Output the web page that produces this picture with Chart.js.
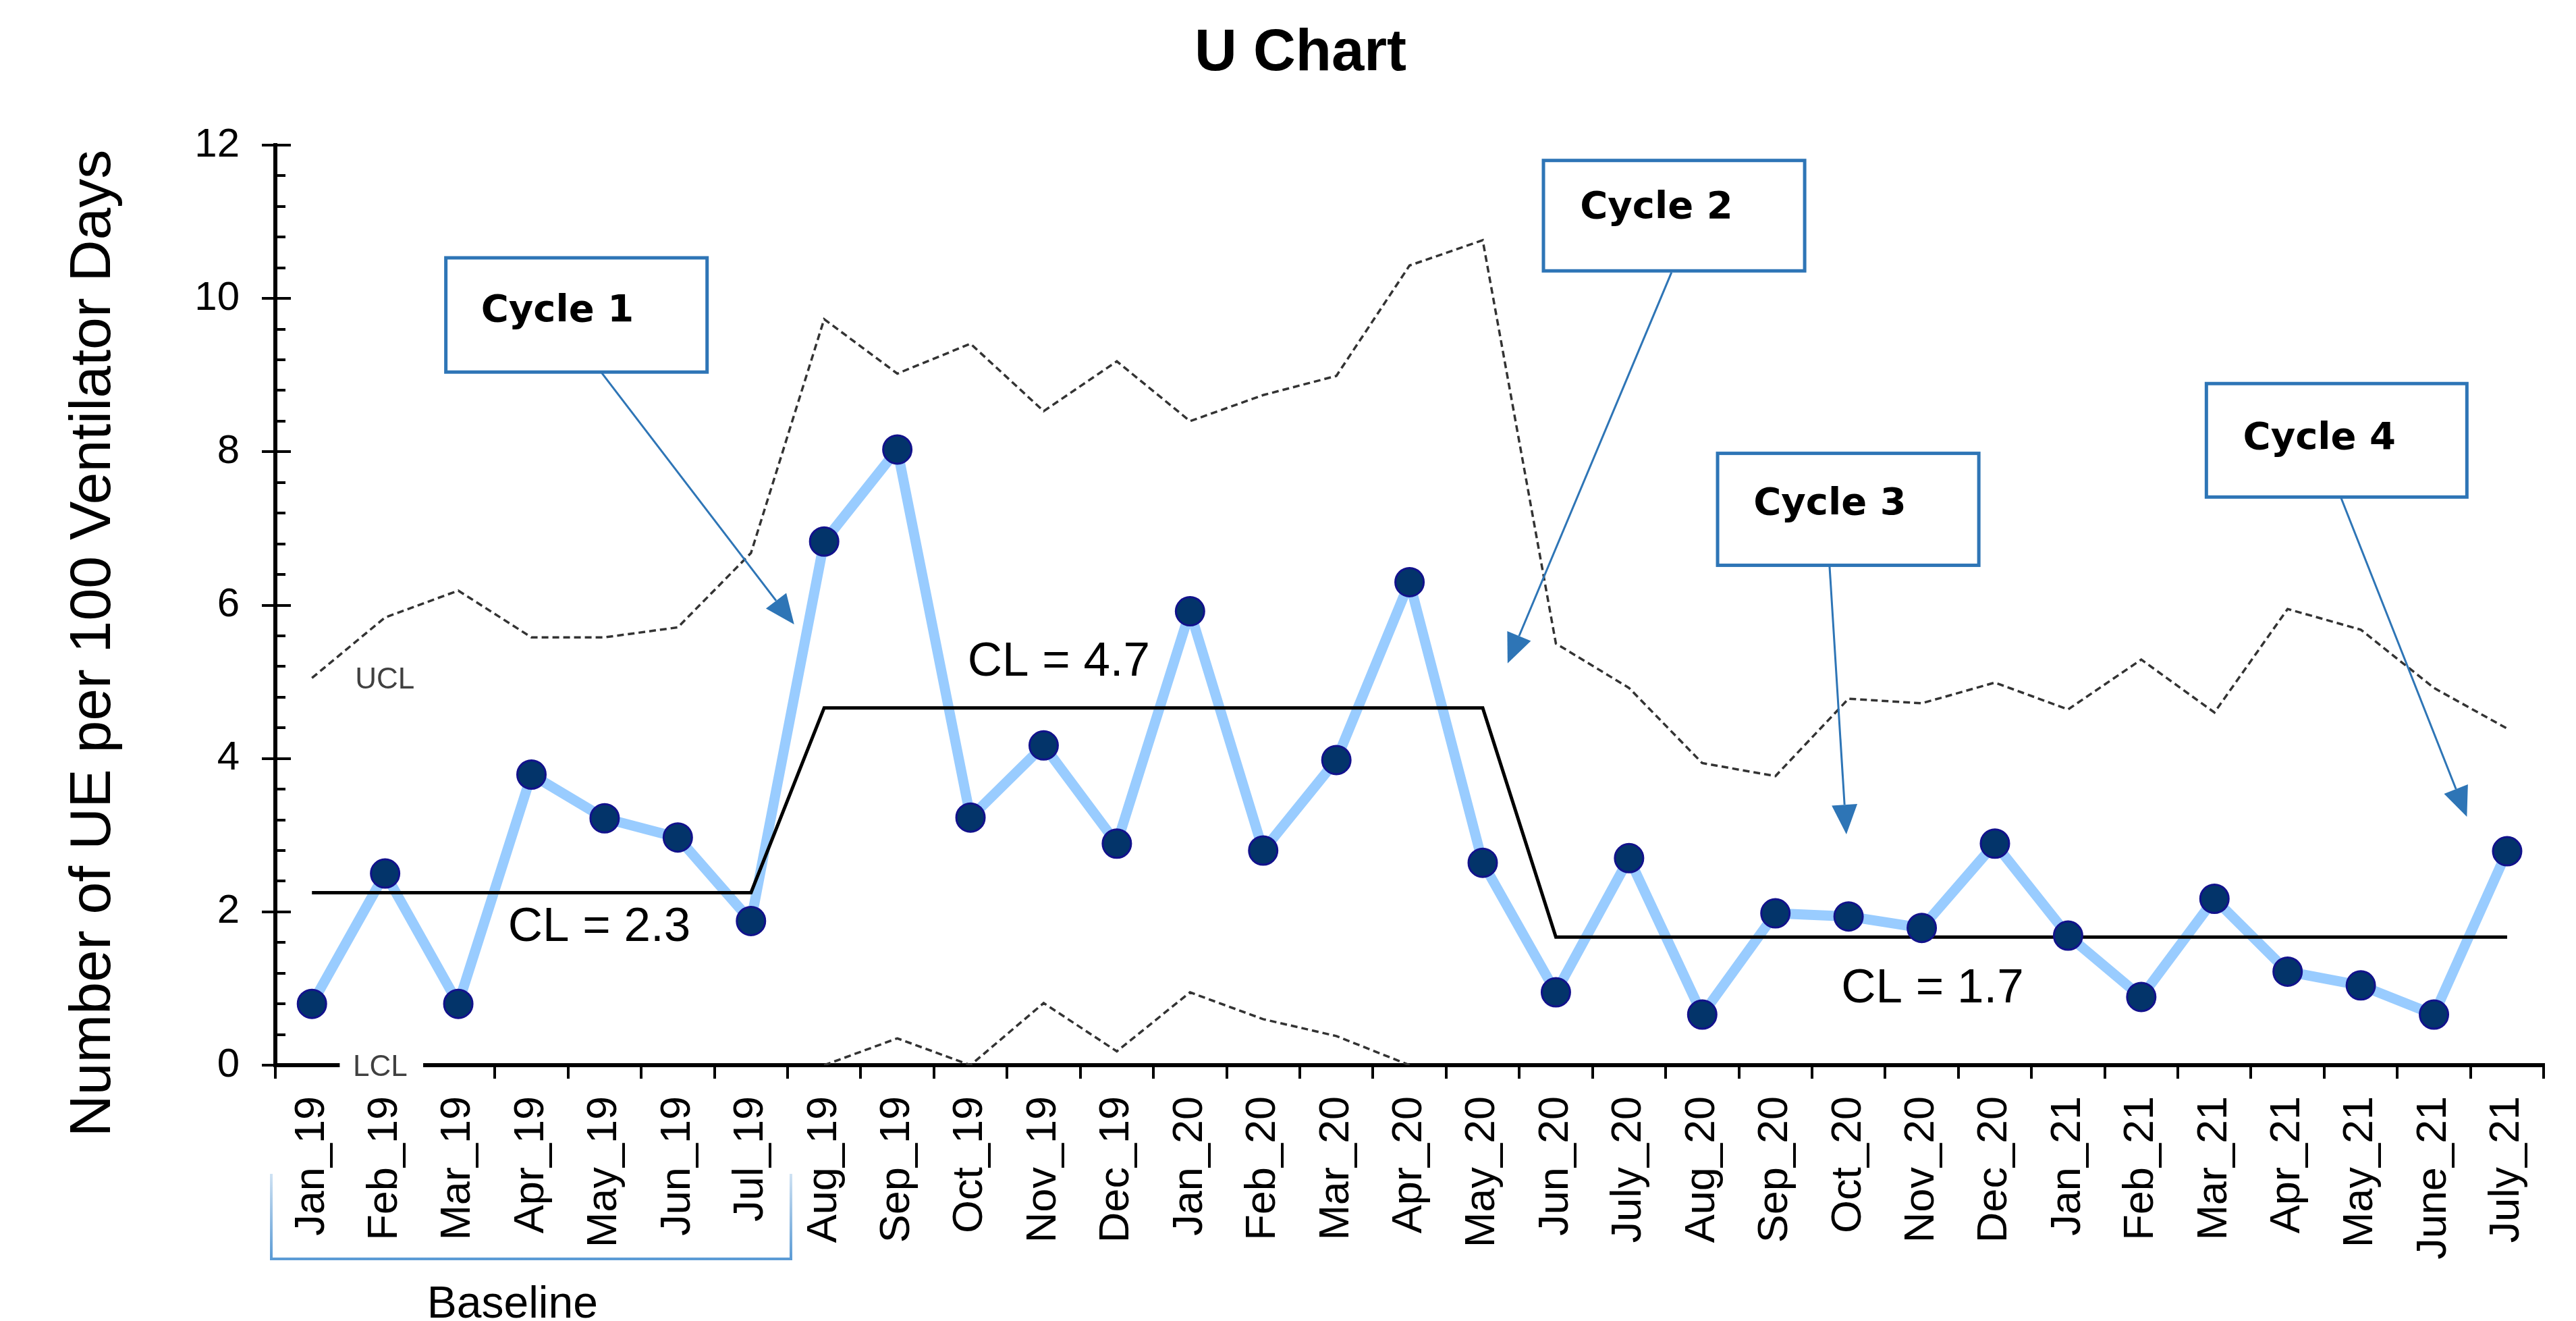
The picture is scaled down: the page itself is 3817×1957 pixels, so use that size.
<!DOCTYPE html>
<html>
<head>
    <meta charset="utf-8" />
    <title>U Chart</title>
    <script src="https://cdn.jsdelivr.net/npm/chart.js"></script>
    <style>
        html, body { margin: 0; padding: 0; background: #fff; }
    </style>
</head>
<body>
    <canvas id="myChart" width="3817" height="1957"></canvas>

    <script>
        // datos
        const meses = [
            'Jan_19', 'Feb_19', 'Mar_19', 'Apr_19', 'May_19', 'Jun_19', 'Jul_19',
            'Aug_19', 'Sep_19', 'Oct_19', 'Nov_19', 'Dec_19',
            'Jan_20', 'Feb_20', 'Mar_20', 'Apr_20', 'May_20', 'Jun_20', 'July_20',
            'Aug_20', 'Sep_20', 'Oct_20', 'Nov_20', 'Dec_20',
            'Jan_21', 'Feb_21', 'Mar_21', 'Apr_21', 'May_21', 'June_21', 'July_21'
        ];
        const valores = [
            0.80, 2.50, 0.80, 3.79, 3.22, 2.97, 1.88,
            6.83, 8.03, 3.23, 4.17, 2.89,
            5.92, 2.80, 3.98, 6.30, 2.64, 0.95, 2.70,
            0.66, 1.98, 1.94, 1.79, 2.89,
            1.69, 0.89, 2.17, 1.22, 1.04, 0.66, 2.79
        ];
        const ucl = [
            5.05, 5.84, 6.19, 5.58, 5.58, 5.71, 6.68,
            9.73, 9.02, 9.41, 8.53, 9.18,
            8.40, 8.74, 8.99, 10.43, 10.76, 5.50, 4.92,
            3.94, 3.77, 4.78, 4.72, 4.99,
            4.64, 5.29, 4.60, 5.95, 5.68, 4.92, 4.39
        ];
        const lcl = [
            null, null, null, null, null, null, null,
            0.00, 0.35, 0.00, 0.81, 0.18,
            0.95, 0.60, 0.38, 0.00, null, null, null,
            null, null, null, null, null,
            null, null, null, null, null, null, null
        ];
        const cl = [
            2.25, 2.25, 2.25, 2.25, 2.25, 2.25, 2.25,
            4.66, 4.66, 4.66, 4.66, 4.66,
            4.66, 4.66, 4.66, 4.66, 4.66, 1.67, 1.67,
            1.67, 1.67, 1.67, 1.67, 1.67,
            1.67, 1.67, 1.67, 1.67, 1.67, 1.67, 1.67
        ];
        const yTicks = [0, 2, 4, 6, 8, 10, 12];
        const pasoMenor = 0.4;

        const FUENTE = "'Liberation Sans', Arial, sans-serif";
        const AZUL = '#2e75b6';

        // cajas de ciclos (coordenadas en indice de categoria / valor)
        const cajas = [
            { texto: 'Cycle 1', x0: 1.83, x1: 5.40, y0: 10.53, y1: 9.04, tx: 2.31, ty: 9.83, desde: [3.96, 9.03], hasta: [6.59, 5.75] },
            { texto: 'Cycle 2', x0: 16.83, x1: 20.40, y0: 11.80, y1: 10.36, tx: 17.33, ty: 11.18, desde: [18.58, 10.34], hasta: [16.34, 5.24] },
            { texto: 'Cycle 3', x0: 19.21, x1: 22.78, y0: 7.98, y1: 6.52, tx: 19.70, ty: 7.31, desde: [20.74, 6.51], hasta: [20.97, 3.01] },
            { texto: 'Cycle 4', x0: 25.89, x1: 29.45, y0: 8.89, y1: 7.41, tx: 26.39, ty: 8.17, desde: [27.73, 7.40], hasta: [29.45, 3.24] }
        ];
        const textosCL = [
            { texto: 'CL = 2.3', x: 2.68, y: 1.79 },
            { texto: 'CL = 4.7', x: 8.96, y: 5.25 },
            { texto: 'CL = 1.7', x: 20.90, y: 0.99 }
        ];

        function flecha(ctx, x0, y0, x1, y1) {
            const ang = Math.atan2(y1 - y0, x1 - x0);
            const largo = 44, ancho = 19;
            const bx = x1 - largo * Math.cos(ang), by = y1 - largo * Math.sin(ang);
            ctx.beginPath();
            ctx.moveTo(x0, y0);
            ctx.lineTo(bx, by);
            ctx.stroke();
            ctx.beginPath();
            ctx.moveTo(x1, y1);
            ctx.lineTo(bx + ancho * Math.sin(ang), by - ancho * Math.cos(ang));
            ctx.lineTo(bx - ancho * Math.sin(ang), by + ancho * Math.cos(ang));
            ctx.closePath();
            ctx.fill();
        }

        const anotaciones = {
            id: 'anotaciones',
            afterDraw(chart) {
                const ctx = chart.ctx;
                const xs = chart.scales.x, ys = chart.scales.y;
                const area = chart.chartArea;
                const X = v => xs.getPixelForValue(v);
                const Y = v => ys.getPixelForValue(v);
                ctx.save();

                // marcas menores del eje y (hacia dentro)
                ctx.strokeStyle = '#000';
                ctx.lineWidth = 4;
                for (let k = 0; k <= 30; k++) {
                    const v = k * pasoMenor;
                    const y = Math.round(Y(v));
                    const mayor = (k % 5) === 0;
                    ctx.beginPath();
                    ctx.moveTo(area.left, y);
                    ctx.lineTo(area.left + (mayor ? 23 : 15), y);
                    ctx.stroke();
                }

                // UCL / LCL
                ctx.font = '44px ' + FUENTE;
                ctx.textBaseline = 'middle';
                ctx.textAlign = 'left';
                ctx.fillStyle = '#fff';
                ctx.fillRect(X(0.38), Y(0) - 20, X(1.52) - X(0.38), 46);
                ctx.fillStyle = '#404040';
                ctx.fillText('LCL', X(0.56), Y(0) + 4);
                ctx.fillText('UCL', X(0.59), Y(5.02));

                // textos CL
                ctx.fillStyle = '#000';
                ctx.font = '71px ' + FUENTE;
                textosCL.forEach(t => ctx.fillText(t.texto, X(t.x), Y(t.y)));

                // cajas y flechas
                cajas.forEach(c => {
                    ctx.strokeStyle = AZUL;
                    ctx.fillStyle = AZUL;
                    ctx.lineWidth = 3;
                    flecha(ctx, X(c.desde[0]), Y(c.desde[1]), X(c.hasta[0]), Y(c.hasta[1]));
                    const l = X(c.x0), r = X(c.x1), t = Y(c.y0), b = Y(c.y1);
                    ctx.fillStyle = '#fff';
                    ctx.fillRect(l, t, r - l, b - t);
                    ctx.lineWidth = 5;
                    ctx.strokeRect(l, t, r - l, b - t);
                    ctx.fillStyle = '#000';
                    ctx.font = "bold 56px 'DejaVu Sans', sans-serif";
                    ctx.textBaseline = 'middle';
                    ctx.fillText(c.texto, X(c.tx), Y(c.ty));
                });

                // titulo del eje y
                ctx.save();
                ctx.translate(163, 953);
                ctx.rotate(-Math.PI / 2);
                ctx.font = '86px ' + FUENTE;
                ctx.textAlign = 'center';
                ctx.textBaseline = 'alphabetic';
                ctx.fillStyle = '#000';
                ctx.fillText('Number of UE per 100 Ventilator Days', 0, 0);
                ctx.restore();

                // llave "Baseline"
                const bl = X(-0.5) - 6, br = X(6.5) + 5;
                const bt = area.bottom + 161, bb = area.bottom + 287;
                const grad = ctx.createLinearGradient(0, bt, 0, bb);
                grad.addColorStop(0, '#cfe2f3');
                grad.addColorStop(1, '#5b9bd5');
                ctx.strokeStyle = grad;
                ctx.lineWidth = 4;
                ctx.beginPath();
                ctx.moveTo(bl, bt);
                ctx.lineTo(bl, bb);
                ctx.lineTo(br, bb);
                ctx.lineTo(br, bt);
                ctx.stroke();
                ctx.fillStyle = '#000';
                ctx.font = '66px ' + FUENTE;
                ctx.textAlign = 'center';
                ctx.textBaseline = 'alphabetic';
                ctx.fillText('Baseline', X(2.74), area.bottom + 374);

                ctx.restore();
            }
        };

        const data = {
            labels: meses,
            datasets: [
                {
                    label: 'Puntos',
                    data: valores,
                    showLine: false,
                    pointRadius: 21,
                    pointBackgroundColor: '#03346a',
                    pointBorderColor: '#12128c',
                    pointBorderWidth: 3,
                    order: 0
                },
                {
                    label: 'CL',
                    data: cl,
                    borderColor: '#000',
                    borderWidth: 5,
                    pointRadius: 0,
                    order: 1
                },
                {
                    label: 'U',
                    data: valores,
                    borderColor: '#99ccff',
                    borderWidth: 15,
                    borderJoinStyle: 'round',
                    borderCapStyle: 'round',
                    pointRadius: 0,
                    order: 2
                },
                {
                    label: 'UCL',
                    data: ucl,
                    borderColor: '#333',
                    borderWidth: 3.5,
                    borderDash: [10, 6],
                    pointRadius: 0,
                    order: 3
                },
                {
                    label: 'LCL',
                    data: lcl,
                    borderColor: '#333',
                    borderWidth: 3.5,
                    borderDash: [10, 6],
                    pointRadius: 0,
                    spanGaps: false,
                    order: 4
                }
            ]
        };

        const config = {
            type: 'line',
            data,
            plugins: [anotaciones],
            options: {
                responsive: false,
                devicePixelRatio: 1,
                animation: false,
                layout: { padding: { left: 64, right: 27, top: 0, bottom: 0 } },
                plugins: {
                    legend: { display: false },
                    tooltip: { enabled: false },
                    title: {
                        display: true,
                        text: 'U Chart',
                        color: '#000',
                        font: { family: FUENTE, size: 87, weight: 'bold', lineHeight: 1.2 },
                        padding: { top: 28, bottom: 82.6 }
                    }
                },
                scales: {
                    x: {
                        type: 'category',
                        offset: true,
                        grid: {
                            offset: true,
                            drawOnChartArea: false,
                            tickLength: 20,
                            color: '#000',
                            lineWidth: 4
                        },
                        border: { color: '#000', width: 6 },
                        ticks: {
                            autoSkip: false,
                            minRotation: 90,
                            maxRotation: 90,
                            padding: 26,
                            color: '#000',
                            font: { family: FUENTE, size: 63 }
                        },
                        afterFit: s => { s.height = 379; }
                    },
                    y: {
                        min: 0,
                        max: 12,
                        afterBuildTicks: s => { s.ticks = yTicks.map(v => ({ value: v })); },
                        grid: {
                            drawOnChartArea: false,
                            tickLength: 20,
                            color: '#000',
                            lineWidth: 4
                        },
                        border: { color: '#000', width: 6 },
                        ticks: {
                            padding: 33,
                            color: '#000',
                            font: { family: FUENTE, size: 60 }
                        },
                        afterFit: s => { s.width = 344; }
                    }
                }
            }
        };

        var myChart = new Chart(document.getElementById('myChart'), config);
    </script>
</body>
</html>
